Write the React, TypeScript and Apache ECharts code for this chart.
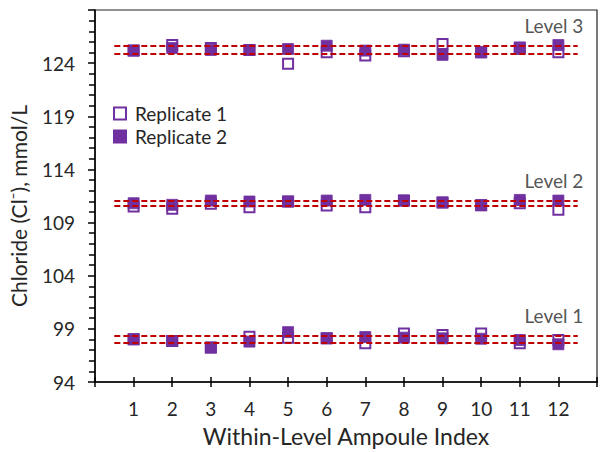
import React, { useEffect, useRef } from "react";
import * as echarts from "echarts";

// ---- data ----
const ampouleIndex = [1, 2, 3, 4, 5, 6, 7, 8, 9, 10, 11, 12];
const levelNames = ["Level 1", "Level 2", "Level 3"];

const rep1Level1 = [98.02, 97.86, 97.24, 98.26, 98.17, 98.11, 97.65, 98.57, 98.42, 98.57, 97.65, 97.95];
const rep2Level1 = [98.02, 97.86, 97.24, 97.8, 98.69, 98.11, 98.23, 98.17, 98.11, 98.07, 97.95, 97.55];

const rep1Level2 = [110.52, 110.3, 110.76, 110.45, 110.98, 110.61, 110.45, 111.07, 110.89, 110.64, 110.82, 110.2];
const rep2Level2 = [110.82, 110.67, 111.07, 110.98, 110.98, 111.07, 111.13, 111.07, 110.89, 110.64, 111.13, 111.07];

const rep1Level3 = [125.18, 125.7, 125.42, 125.24, 123.94, 125.02, 124.71, 125.11, 125.8, 125.02, 125.48, 125.02];
const rep2Level3 = [125.18, 125.42, 125.24, 125.24, 125.33, 125.64, 125.18, 125.27, 124.78, 125.02, 125.33, 125.7];

const bandLower = [97.65, 110.6, 124.9];
const bandUpper = [98.35, 111.1, 125.6];
const bandStart = 0.5;
const bandEnd = 12.5;

const levelLabelX = 12.66;
const levelLabelY = [100.3, 113.0, 127.5];

const yMin = 94;
const yMax = 129;
const yStep = 5;
const xMin = 0;
const xMax = 13;

const seriesNames = ["Replicate 1", "Replicate 2"];
const yTitle = "Chloride (Cl\u207B), mmol/L";
const xTitle = "Within-Level Ampoule Index";

const PURPLE = "#7030A0";
const RED = "#C00000";
const TEXT = "#262626";
const FONT = "Lato";

function toPoints(levels: number[][]) {
  const pts: number[][] = [];
  levels.forEach((vals) => {
    vals.forEach((v, i) => pts.push([ampouleIndex[i], v]));
  });
  return pts;
}

export default function App() {
  const ref = useRef<HTMLDivElement>(null);

  useEffect(() => {
    if (!ref.current) return;
    const chart = echarts.init(ref.current, null, { renderer: "svg" });

    const bandLines: any[] = [];
    bandLower.forEach((v) => {
      bandLines.push([{ coord: [bandStart, v] }, { coord: [bandEnd, v] }]);
    });
    bandUpper.forEach((v) => {
      bandLines.push([{ coord: [bandStart, v] }, { coord: [bandEnd, v] }]);
    });

    chart.setOption({
      animation: false,
      backgroundColor: "#ffffff",
      textStyle: { fontFamily: FONT, color: TEXT },
      grid: {
        left: 94,
        top: 10,
        width: 511,
        height: 377,
        show: true,
        borderColor: "#222",
        borderWidth: 1.2,
        backgroundColor: "transparent",
      },
      legend: {
        orient: "vertical",
        left: 113,
        top: 104,
        padding: 0,
        itemWidth: 12,
        itemHeight: 12,
        itemGap: 4,
        textStyle: {
          fontFamily: FONT,
          fontSize: 19,
          color: TEXT,
          lineHeight: 19,
          padding: [0, 0, 0, 4],
        },
        data: [
          {
            name: seriesNames[0],
            icon: "rect",
            itemStyle: { color: "#ffffff", borderColor: PURPLE, borderWidth: 2 },
          },
          { name: seriesNames[1], icon: "rect", itemStyle: { color: PURPLE } },
        ],
      },
      xAxis: [
        {
          type: "value",
          min: xMin,
          max: xMax,
          interval: 1,
          name: xTitle,
          nameLocation: "middle",
          nameGap: 42,
          nameTextStyle: { fontFamily: FONT, fontSize: 23, color: TEXT },
          axisLine: { show: true, lineStyle: { color: "#000", width: 1.5 } },
          axisTick: { show: true, inside: false, length: 5, lineStyle: { color: "#000", width: 1.5 } },
          axisLabel: {
            margin: 17,
            fontFamily: FONT,
            fontSize: 19,
            color: TEXT,
            formatter: (v: number) => (v >= 1 && v <= 12 ? String(v) : ""),
          },
          splitLine: { show: false },
        },
        {
          type: "value",
          position: "bottom",
          min: xMin,
          max: xMax,
          interval: 1,
          axisLine: { show: false },
          axisTick: { show: true, inside: true, length: 5, lineStyle: { color: "#000", width: 1.5 } },
          axisLabel: { show: false },
          splitLine: { show: false },
        },
      ],
      yAxis: {
        type: "value",
        min: yMin,
        max: yMax,
        interval: yStep,
        name: yTitle,
        nameLocation: "middle",
        nameGap: 66,
        nameTextStyle: {
          fontFamily: FONT,
          fontSize: 21,
          color: TEXT,
          padding: [0, 20, 0, 0],
        },
        axisLine: { show: true, lineStyle: { color: "#000", width: 1.5 } },
        axisTick: { show: true, inside: false, length: 7, lineStyle: { color: "#000", width: 1.5 } },
        minorTick: { show: true, splitNumber: 5, length: 6, lineStyle: { color: "#000", width: 1.5 } },
        axisLabel: {
          margin: 20,
          fontFamily: FONT,
          fontSize: 19,
          color: TEXT,
          showMaxLabel: false,
        },
        splitLine: { show: false },
        minorSplitLine: { show: false },
      },
      series: [
        {
          name: "bands",
          type: "line",
          data: [],
          silent: true,
          markLine: {
            silent: true,
            symbol: ["none", "none"],
            label: { show: false },
            lineStyle: { color: RED, width: 2, type: [6, 3] },
            data: bandLines,
          },
        },
        {
          name: seriesNames[0],
          type: "scatter",
          symbol: "rect",
          symbolSize: 10,
          itemStyle: { color: "#ffffff", borderColor: PURPLE, borderWidth: 2, opacity: 1 },
          data: toPoints([rep1Level1, rep1Level2, rep1Level3]),
          z: 3,
        },
        {
          name: seriesNames[1],
          type: "scatter",
          symbol: "rect",
          symbolSize: 11,
          itemStyle: { color: PURPLE, borderColor: PURPLE, borderWidth: 0.8, opacity: 1 },
          data: toPoints([rep2Level1, rep2Level2, rep2Level3]),
          z: 4,
        },
        {
          name: "levels",
          type: "scatter",
          symbolSize: 1,
          silent: true,
          itemStyle: { color: "transparent" },
          label: {
            show: true,
            position: "left",
            distance: 0,
            fontFamily: FONT,
            fontSize: 19,
            color: TEXT,
            formatter: (p: any) => levelNames[p.dataIndex],
          },
          data: levelLabelY.map((y) => [levelLabelX, y]),
          z: 5,
        },
      ],
    });

    return () => chart.dispose();
  }, []);

  return (
    <div
      ref={ref}
      style={{ position: "fixed", left: 0, top: 0, width: 600, height: 452, background: "#fff" }}
    />
  );
}
